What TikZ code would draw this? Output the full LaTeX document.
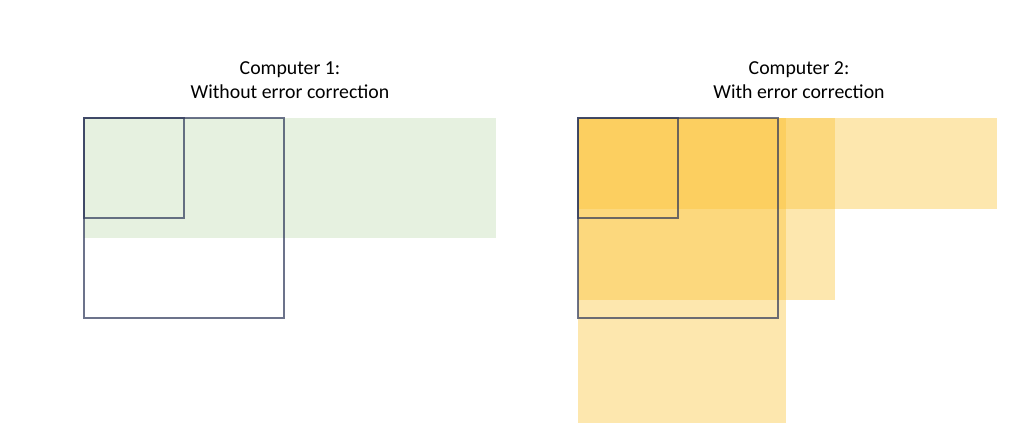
\documentclass[tikz,border=0pt]{standalone}
\usepackage{fontspec}
\setmainfont{Carlito}
\definecolor{greenfill}{RGB}{230,241,224}
\definecolor{yellowfill}{RGB}{251,194,52}
\definecolor{outline}{RGB}{46,56,90}
\tikzset{
  ttl/.style={font=\fontsize{19.8}{24}\selectfont, align=center, text=black, inner sep=0pt},
  yel/.style={fill=yellowfill, fill opacity=0.4, draw=none},
  grn/.style={fill=greenfill, draw=none},
  qbox/.style={draw=outline, draw opacity=0.7, line width=2pt, fill=none},
}
\begin{document}
\begin{tikzpicture}[x=1pt,y=-1pt]
\useasboundingbox (0,0) rectangle (1024,436);
% left panel
\node[ttl] (t1) at (290,80) {Computer 1:\\Without error correction};
\fill[grn] (84,118) rectangle (496,238);
\draw[qbox] (84,118) rectangle (284,318);
\draw[qbox] (84,118) rectangle (184,218);
% right panel
\node[ttl] (t2) at (799,80) {Computer 2:\\With error correction};
\fill[yel] (578,118) rectangle (997,209);
\fill[yel] (578,118) rectangle (835,300);
\fill[yel] (578,118) rectangle (786,423);
\draw[qbox] (578,118) rectangle (778,318);
\draw[qbox] (578,118) rectangle (678,218);
\end{tikzpicture}
\end{document}
